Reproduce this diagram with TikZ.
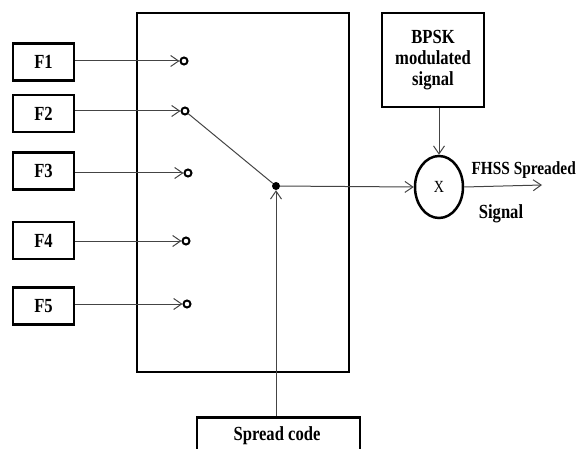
\documentclass[tikz,border=0pt]{standalone}
\usepackage{fontspec}
\setmainfont{Liberation Serif}[FakeStretch=0.83]
\usetikzlibrary{arrows.meta,shapes.geometric}
\definecolor{ln}{HTML}{444444}
\tikzset{
  fbox/.style={draw=black, line width=2.5pt, minimum width=61pt, minimum height=37pt, inner sep=0pt, font=\fontsize{20}{22}\selectfont\bfseries},
  tbox/.style={draw=black, line width=2.5pt, inner sep=0pt, align=center, font=\fontsize{20}{24}\selectfont\bfseries},
  pin/.style={circle, draw=black, line width=2pt, fill=white, minimum size=7pt, inner sep=0pt},
  conn/.style={draw=ln, line width=1pt},
  arr/.style={conn, -{Straight Barb[length=8pt,width=11pt,line width=1pt]}},
  lbl/.style={font=\fontsize{20}{22}\selectfont\bfseries, inner sep=0pt}
}
\begin{document}
\begin{tikzpicture}[x=1pt,y=-1pt]
\useasboundingbox (0,0) rectangle (578,449);
\clip (0,0) rectangle (578,449);
% main switch box
\node[draw=black, line width=2.5pt, minimum width=212pt, minimum height=359pt, inner sep=0pt] (sw) at (243,192.5) {};
% input boxes
\node[fbox] (F1) at (43.5,62) {F1};
\node[fbox] (F2) at (43.5,113.5) {F2};
\node[fbox] (F3) at (43.5,171) {F3};
\node[fbox] (F4) at (43.5,240.5) {F4};
\node[fbox] (F5) at (43.5,306) {F5};
% pins
\node[pin] (d1) at (184,61) {};
\node[pin] (d2) at (185,111) {};
\node[pin] (d3) at (188,173) {};
\node[pin] (d4) at (186,241) {};
\node[pin] (d5) at (187,304) {};
\node[circle, fill=black, minimum size=8pt, inner sep=0pt] (c) at (276,186) {};
% arrows into pins
\draw[arr] (F1.east |- d1) -- (d1.west);
\draw[arr] (F2.east |- d2) -- (d2.west);
\draw[arr] (F3.east |- d3) -- (d3.west);
\draw[arr] (F4.east |- d4) -- (d4.west);
\draw[arr] (F5.east |- d5) -- (d5.west);
% switch arm
\draw[conn] (d2) -- (c);
% multiplier
\node[draw=black, line width=2.5pt, ellipse, minimum width=48pt, minimum height=62pt, inner sep=0pt, font=\fontsize{17}{18}\selectfont] (m) at (439,187) {X};
\draw[arr] (c) -- (m.west);
% BPSK box
\node[tbox, minimum width=102pt, minimum height=94pt] (b) at (433,60) {BPSK\\[-3pt]modulated\\[-3pt]signal};
\draw[arr] (b.south -| m.north) -- (m.north);
% output
\coordinate (out) at (542,185);
\draw[arr] (m.east) -- (out);
\node[lbl, font=\fontsize{18.5}{22}\selectfont\bfseries, anchor=east] (t1) at (576,170) {FHSS Spreaded};
\node[lbl] (t2) at (501,214) {Signal};
% spread code box
\node[tbox, minimum width=163pt, minimum height=60pt, anchor=north] (s) at (278.5,416) {};
\node[lbl] (st) at (277,436) {Spread code};
\draw[arr] (s.north -| c) -- (c.south);
\end{tikzpicture}
\end{document}
